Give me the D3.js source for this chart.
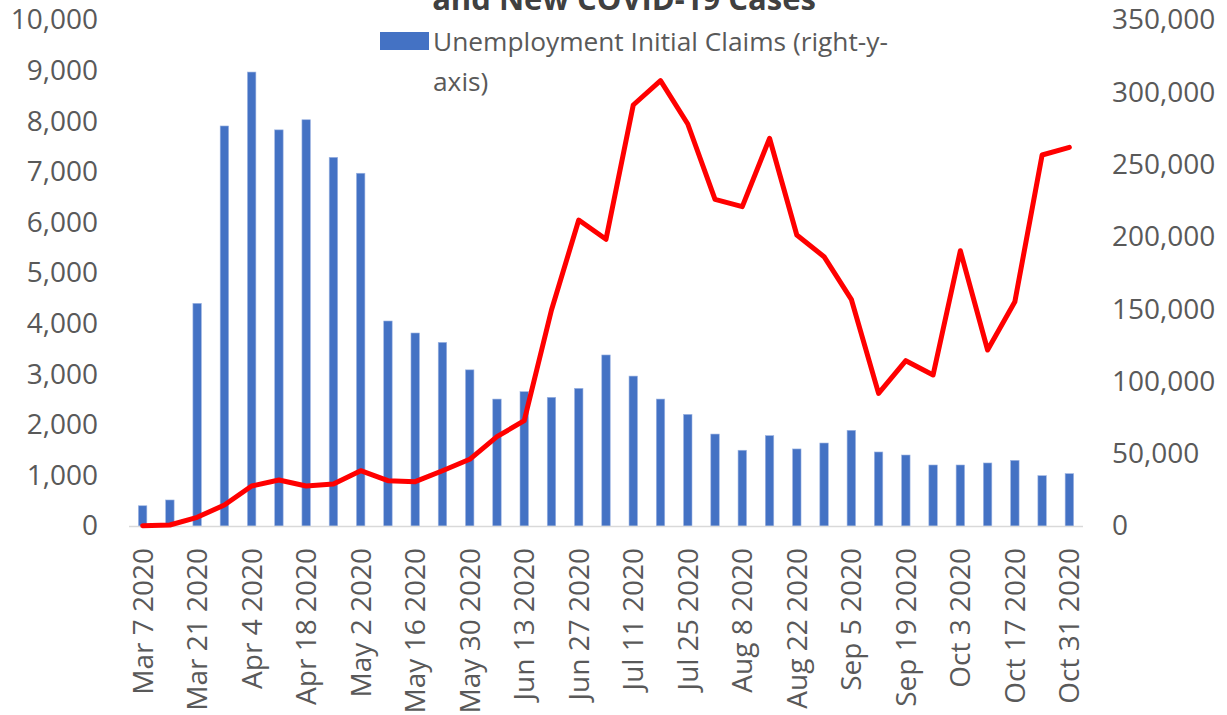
<!DOCTYPE html>
<html>
<head>
<meta charset="utf-8">
<script src="https://cdn.jsdelivr.net/npm/d3@7"></script>
<style>
  body { margin: 0; background: #fff; }
  svg { display: block; font-family: "Open Sans", sans-serif; }
</style>
</head>
<body>
<div class="container"></div>
<script>
// Weekly dates (every other one is labelled)
const weeks = [
  "Mar 7 2020", "Mar 14 2020", "Mar 21 2020", "Mar 28 2020", "Apr 4 2020",
  "Apr 11 2020", "Apr 18 2020", "Apr 25 2020", "May 2 2020", "May 9 2020",
  "May 16 2020", "May 23 2020", "May 30 2020", "Jun 6 2020", "Jun 13 2020",
  "Jun 20 2020", "Jun 27 2020", "Jul 4 2020", "Jul 11 2020", "Jul 18 2020",
  "Jul 25 2020", "Aug 1 2020", "Aug 8 2020", "Aug 15 2020", "Aug 22 2020",
  "Aug 29 2020", "Sep 5 2020", "Sep 12 2020", "Sep 19 2020", "Sep 26 2020",
  "Oct 3 2020", "Oct 10 2020", "Oct 17 2020", "Oct 24 2020", "Oct 31 2020"
];

// Unemployment initial claims (right axis)
const claims = [
  14000, 18000, 154000, 276700, 314000, 274000, 281000, 255000, 244000, 141800,
  133500, 127000, 108000, 87800, 92900, 89000, 95200, 118300, 103700, 87800,
  77200, 63600, 52400, 62500, 53300, 57400, 66200, 51200, 49100, 42200,
  42200, 43600, 45400, 34800, 36200
];

// New COVID-19 cases (left axis)
const cases = [
  5, 20, 172, 415, 790, 909, 790, 830, 1093, 895,
  876, 1093, 1318, 1765, 2081, 4269, 6047, 5666, 8320, 8801,
  7945, 6456, 6311, 7662, 5751, 5322, 4480, 2622, 3267, 2984,
  5441, 3478, 4433, 7332, 7484
];

const leftTicks = d3.range(0, 10001, 1000);
const rightTicks = d3.range(0, 350001, 50000);

const WIDTH = 1227;
const HEIGHT = 715;
const plot = { left: 129, right: 1083, top: 20, bottom: 526 };
const TEXT = "#595959";

const svg = d3.select(".container")
  .append("svg")
  .attr("width", WIDTH)
  .attr("height", HEIGHT);

// Scales
const x = d3.scaleBand().domain(weeks).range([plot.left, plot.right]).paddingInner(0.69).paddingOuter(0.345);
const xc = (d) => x(d) + x.bandwidth() / 2;
const yLeft = d3.scaleLinear().domain([0, 10000]).range([plot.bottom, plot.top]);
const yRight = d3.scaleLinear().domain([0, 350000]).range([plot.bottom, plot.top]);

// Title (cut at the top, as in the source)
svg.append("text")
  .attr("x", 624)
  .attr("y", 10)
  .attr("text-anchor", "middle")
  .attr("font-size", 31)
  .attr("font-weight", "bold")
  .attr("fill", "#404040")
  .text("and New COVID-19 Cases");

// Bars
svg.append("g")
  .selectAll("rect")
  .data(weeks)
  .join("rect")
  .attr("x", (d) => x(d))
  .attr("width", x.bandwidth())
  .attr("y", (d, i) => yRight(claims[i]))
  .attr("height", (d, i) => plot.bottom - yRight(claims[i]))
  .attr("fill", "#4472C4")
  .attr("stroke", "#9db4e2")
  .attr("stroke-width", 0.6);

// Baseline
svg.append("line")
  .attr("x1", plot.left)
  .attr("x2", plot.right)
  .attr("y1", plot.bottom + 0.5)
  .attr("y2", plot.bottom + 0.5)
  .attr("stroke", "#d9d9d9")
  .attr("stroke-width", 1.5);

// Line
const line = d3.line()
  .x((d, i) => xc(weeks[i]))
  .y((d) => yLeft(d));

svg.append("path")
  .datum(cases)
  .attr("d", line)
  .attr("fill", "none")
  .attr("stroke", "#FF0000")
  .attr("stroke-width", 5)
  .attr("stroke-linejoin", "round")
  .attr("stroke-linecap", "round");

// Left axis
const fmt = d3.format(",");
const leftAxis = d3.axisLeft(yLeft).tickValues(leftTicks).tickFormat(fmt).tickSize(0).tickPadding(0);
svg.append("g")
  .attr("transform", "translate(98,0)")
  .call(leftAxis)
  .call((g) => g.select(".domain").remove())
  .call((g) => g.selectAll("text").attr("font-size", 28).attr("fill", TEXT).attr("font-family", "Open Sans"));

// Right axis
const rightAxis = d3.axisRight(yRight).tickValues(rightTicks).tickFormat(fmt).tickSize(0).tickPadding(0);
svg.append("g")
  .attr("transform", "translate(1112,0)")
  .call(rightAxis)
  .call((g) => g.select(".domain").remove())
  .call((g) => g.selectAll("text").attr("font-size", 28).attr("fill", TEXT).attr("font-family", "Open Sans"));

// X labels, every second week
svg.append("g")
  .selectAll("text")
  .data(weeks.filter((d, i) => i % 2 === 0))
  .join("text")
  .attr("transform", (d) => `translate(${xc(d)},548) rotate(-90)`)
  .attr("text-anchor", "end")
  .attr("dy", "0.36em")
  .attr("font-size", 28)
  .attr("fill", TEXT)
  .text((d) => d);

// Legend
svg.append("rect")
  .attr("x", 380)
  .attr("y", 32)
  .attr("width", 49)
  .attr("height", 18)
  .attr("fill", "#4472C4");

svg.append("text")
  .attr("x", 433)
  .attr("y", 51)
  .attr("font-size", 26.3)
  .attr("fill", TEXT)
  .call((t) => {
    t.append("tspan").attr("x", 433).text("Unemployment Initial Claims (right-y-");
    t.append("tspan").attr("x", 433).attr("dy", 40).text("axis)");
  });
</script>
</body>
</html>
